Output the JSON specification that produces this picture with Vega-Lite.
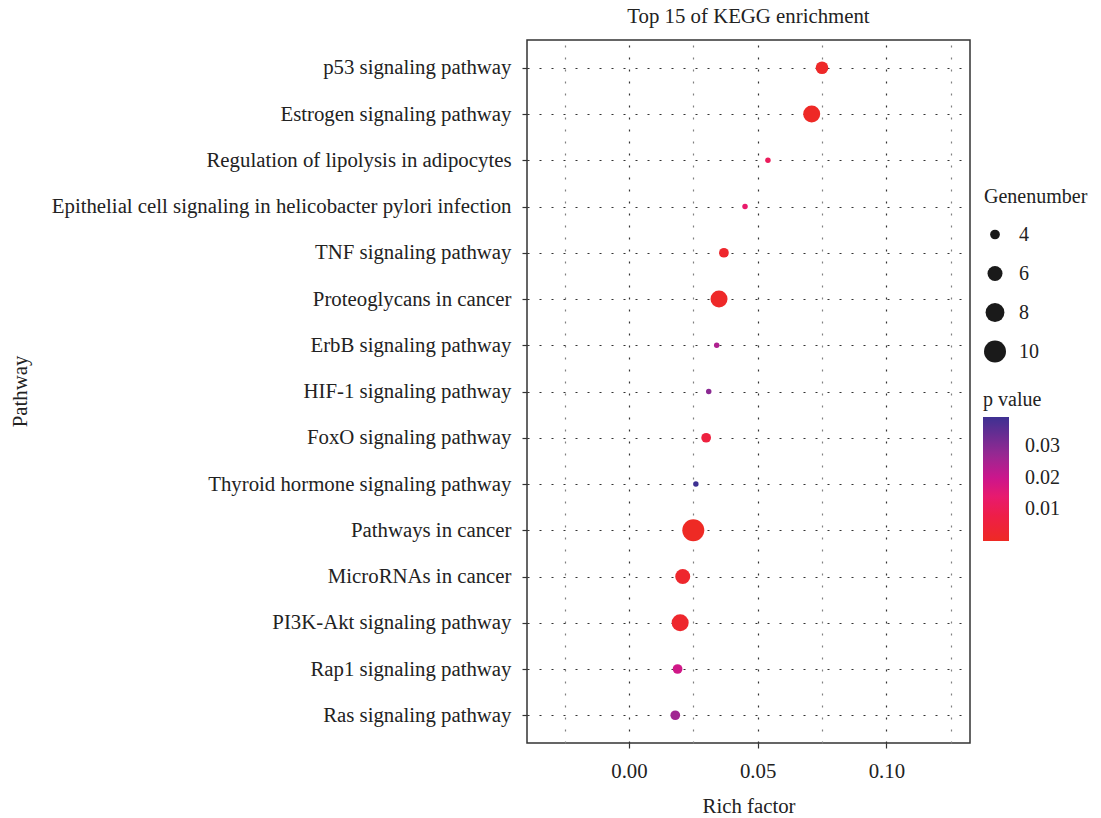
{
  "$schema": "https://vega.github.io/schema/vega-lite/v6.json",
  "width": 443,
  "height": 703,
  "autosize": "none",
  "padding": {"left": 527, "top": 40, "right": 131, "bottom": 75},
  "background": "white",
  "title": {"text": "Top 15 of KEGG enrichment", "font": "Liberation Serif", "fontSize": 20.8, "fontWeight": "normal", "color": "#222222", "anchor": "middle", "offset": 12},
  "config": {
    "view": {"stroke": "#333333", "strokeWidth": 1.5},
    "font": "Liberation Serif"
  },
  "data": {"values": [
    {"pathway": "p53 signaling pathway", "richFactor": 0.0750, "genes": 5, "pvalue": 0.001},
    {"pathway": "Estrogen signaling pathway", "richFactor": 0.0710, "genes": 7, "pvalue": 0.0005},
    {"pathway": "Regulation of lipolysis in adipocytes", "richFactor": 0.0540, "genes": 3, "pvalue": 0.011},
    {"pathway": "Epithelial cell signaling in helicobacter pylori infection", "richFactor": 0.0451, "genes": 3, "pvalue": 0.0135},
    {"pathway": "TNF signaling pathway", "richFactor": 0.0369, "genes": 4, "pvalue": 0.002},
    {"pathway": "Proteoglycans in cancer", "richFactor": 0.0350, "genes": 7, "pvalue": 0.001},
    {"pathway": "ErbB signaling pathway", "richFactor": 0.0341, "genes": 3, "pvalue": 0.024},
    {"pathway": "HIF-1 signaling pathway", "richFactor": 0.0310, "genes": 3, "pvalue": 0.029},
    {"pathway": "FoxO signaling pathway", "richFactor": 0.0300, "genes": 4, "pvalue": 0.006},
    {"pathway": "Thyroid hormone signaling pathway", "richFactor": 0.0260, "genes": 3, "pvalue": 0.0392},
    {"pathway": "Pathways in cancer", "richFactor": 0.0250, "genes": 10, "pvalue": 0.0001},
    {"pathway": "MicroRNAs in cancer", "richFactor": 0.0209, "genes": 6, "pvalue": 0.002},
    {"pathway": "PI3K-Akt signaling pathway", "richFactor": 0.0199, "genes": 7, "pvalue": 0.002},
    {"pathway": "Rap1 signaling pathway", "richFactor": 0.0189, "genes": 4, "pvalue": 0.019},
    {"pathway": "Ras signaling pathway", "richFactor": 0.0180, "genes": 4, "pvalue": 0.026}
  ]},
  "mark": {"type": "circle", "opacity": 1},
  "encoding": {
    "y": {
      "field": "pathway", "type": "nominal", "sort": null,
      "scale": {"type": "point", "padding": 0.6},
      "axis": {
        "title": "Pathway", "titleFont": "Liberation Serif", "titleFontSize": 20.8, "titleFontWeight": "normal", "titleColor": "#222222",
        "titleX": -507, "titleY": 351, "titleAngle": -90, "titleBaseline": "middle", "titleAlign": "center",
        "labelFont": "Liberation Serif", "labelFontSize": 20.8, "labelColor": "#222222", "labelLimit": 700, "labelPadding": 11,
        "tickSize": 5, "tickColor": "#333333", "tickWidth": 1.2,
        "domain": false,
        "grid": true, "gridDash": [2, 10], "gridColor": "#333333", "gridWidth": 1.2
      }
    },
    "x": {
      "field": "richFactor", "type": "quantitative",
      "scale": {"domain": [-0.0396, 0.1325], "nice": false, "zero": false},
      "axis": {
        "title": "Rich factor", "titleFont": "Liberation Serif", "titleFontSize": 20.8, "titleFontWeight": "normal", "titleColor": "#222222",
        "titleY": 63, "titleBaseline": "middle",
        "values": [-0.025, 0, 0.025, 0.05, 0.075, 0.1, 0.125],
        "labelExpr": "abs(datum.value*20 - round(datum.value*20)) < 0.001 ? format(datum.value, '.2f') : ''",
        "labelFont": "Liberation Serif", "labelFontSize": 20.8, "labelColor": "#222222", "labelPadding": 13,
        "tickSize": 5, "tickWidth": 1.2, "tickColor": "#333333",
        "tickOpacity": {"condition": {"test": "abs(datum.value*20 - round(datum.value*20)) < 0.001", "value": 1}, "value": 0},
        "domain": false,
        "grid": true, "gridDash": [2, 10], "gridWidth": 1.2,
        "gridColor": {"condition": {"test": "abs(datum.value*20 - round(datum.value*20)) < 0.001", "value": "#333333"}, "value": "#808080"}
      }
    },
    "size": {
      "field": "genes", "type": "quantitative", "title": "Genenumber",
      "scale": {"domain": [3, 10], "range": [30, 484], "zero": false},
      "legend": {
        "orient": "none", "legendX": 457, "legendY": 147, "values": [4, 6, 8, 10],
        "titleFont": "Liberation Serif", "titleFontSize": 20, "titleFontWeight": "normal", "titleColor": "#222222", "titlePadding": 8,
        "labelFont": "Liberation Serif", "labelFontSize": 20, "labelColor": "#222222", "labelOffset": 13,
        "symbolFillColor": "#1a1a1a", "symbolStrokeColor": "#1a1a1a", "symbolStrokeWidth": 0, "symbolOpacity": 1, "symbolType": "circle",
        "clipHeight": 39, "rowPadding": 0, "padding": 0
      }
    },
    "color": {
      "field": "pvalue", "type": "quantitative", "title": "p value",
      "scale": {
        "domain": [0, 0.008, 0.014, 0.02, 0.027, 0.0392],
        "range": ["#EE2A24", "#EE1E48", "#E81A6E", "#CB168C", "#9A2892", "#3E3192"],
        "interpolate": "rgb"
      },
      "legend": {
        "orient": "none", "legendX": 456, "legendY": 350, "values": [0.01, 0.02, 0.03], "format": ".2f",
        "direction": "vertical", "gradientLength": 124, "gradientThickness": 26, "gradientStrokeWidth": 0,
        "titleFont": "Liberation Serif", "titleFontSize": 20, "titleFontWeight": "normal", "titleColor": "#222222", "titlePadding": 7,
        "labelFont": "Liberation Serif", "labelFontSize": 20, "labelColor": "#222222", "labelOffset": 16,
        "padding": 0
      }
    }
  }
}
